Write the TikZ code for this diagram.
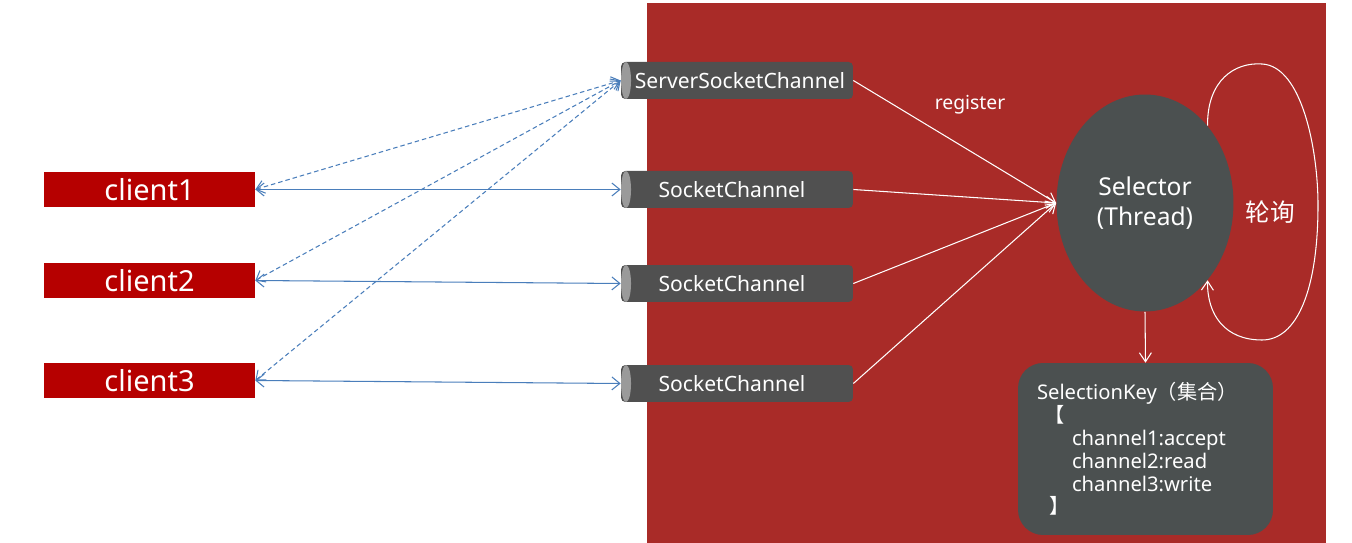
\documentclass[tikz,border=0pt]{standalone}
\usepackage{fontspec}
\setmainfont{Noto Sans}
\newfontfamily\cjk{Noto Sans CJK SC}
\usetikzlibrary{shapes,arrows.meta,positioning}
\definecolor{NioRed}{HTML}{A92B28}
\definecolor{ClientRed}{HTML}{B60000}
\definecolor{ChanGrey}{HTML}{505050}
\definecolor{ChanEnd}{HTML}{9A9A9A}
\definecolor{SelGrey}{HTML}{4B5050}
\definecolor{LinkBlue}{HTML}{4A7EBB}
\definecolor{NioWhite}{HTML}{FFFFFF}
\tikzset{
    % Client box style
    clientnode/.style={
        fill=ClientRed,
        text=NioWhite,
        minimum width=4.22cm,
        minimum height=0.7cm,
        inner sep=0pt,
        font=\fontsize{16.5}{19}\selectfont
    },
    % Channel pipe style
    channelnode/.style={
        rectangle,
        rounded corners=2.5pt,
        fill=ChanGrey,
        minimum width=4.64cm,
        minimum height=0.74cm,
        inner sep=0pt,
        text=NioWhite,
        font=\fontsize{12}{14}\selectfont,
        path picture={
            \fill[ChanEnd] ([xshift=0.1cm]path picture bounding box.west)
                ellipse (0.1cm and 0.37cm);
        }
    },
    % Selector ellipse style
    selectornode/.style={
        ellipse,
        fill=SelGrey,
        text=NioWhite,
        minimum width=3.54cm,
        minimum height=4.34cm,
        align=center,
        font=\fontsize{14}{17}\selectfont
    },
    % Key set box style
    keynode/.style={
        rectangle,
        rounded corners=0.5cm,
        fill=SelGrey,
        text=NioWhite,
        minimum width=5.1cm,
        minimum height=3.44cm,
        text width=4.34cm,
        align=left,
        font=\fontsize{11.5}{13}\selectfont
    },
    % White label
    whitelabel/.style={
        text=NioWhite,
        inner sep=1pt
    },
    % Blue two-way arrow
    bluearrow/.style={
        <->,
        >={Straight Barb[length=0.16cm,width=0.26cm]},
        line width=0.6pt,
        draw=LinkBlue
    },
    % Blue dashed two-way arrow
    bluedash/.style={
        bluearrow,
        dash pattern=on 0.9mm off 0.6mm
    },
    % White arrow
    whitearrow/.style={
        ->,
        >={Straight Barb[length=0.18cm,width=0.24cm]},
        line width=0.6pt,
        draw=NioWhite
    }
}
\begin{document}
\begin{tikzpicture}[x=0.02cm, y=-0.02cm]
    \useasboundingbox (0,0) rectangle (1352,543);
    \fill[NioRed] (647,3) rectangle (1326,543);

    \node[clientnode] (c1) at (149.5,189.5) {client1};
    \node[clientnode] (c2) at (149.5,280.5) {client2};
    \node[clientnode] (c3) at (149.5,380.5) {client3};

    \node[channelnode] (ssc) at (737,80.5) {\hspace*{0.12cm}ServerSocketChannel};
    \node[channelnode] (sc1) at (737,189.5) {SocketChannel\hspace*{0.2cm}};
    \node[channelnode] (sc2) at (737,283.5) {SocketChannel\hspace*{0.2cm}};
    \node[channelnode] (sc3) at (737,383.5) {SocketChannel\hspace*{0.2cm}};

    \node[selectornode] (sel) at (1145,203) {Selector\\(Thread)};
    \node[keynode] (key) at (1145.5,449) {SelectionKey{\cjk（集合）}\\
        \hspace*{0.15cm}{\cjk【}\\
        \hspace*{0.7cm}channel1:accept\\
        \hspace*{0.7cm}channel2:read\\
        \hspace*{0.7cm}channel3:write\\
        \hspace*{0.25cm}{\cjk】}};

    \node[whitelabel, font=\fontsize{11}{13}\selectfont] (reg) at (970,105) {register};
    \node[whitelabel, font=\cjk\fontsize{14}{17}\selectfont] (poll) at (1270,212) {轮询};

    \draw[bluearrow] (c1.east) -- (sc1.west);
    \draw[bluearrow] (c2.east) -- (sc2.west);
    \draw[bluearrow] (c3.east) -- (sc3.west);
    \draw[bluedash] (c1.east) -- (ssc.west);
    \draw[bluedash] (c2.east) -- (ssc.west);
    \draw[bluedash] (c3.east) -- (ssc.west);

    \draw[whitearrow] (ssc.east) -- (sel.west);
    \draw[whitearrow] (sc1.east) -- (sel.west);
    \draw[whitearrow] (sc2.east) -- (sel.west);
    \draw[whitearrow] (sc3.east) -- (sel.west);
    \draw[whitearrow] (sel.south) -- (key.north);

    \draw[whitearrow] (sel.51) .. controls (1207,80) and (1235,62) .. (1262,64)
        .. controls (1302,66) and (1318,150) .. (1318,205)
        .. controls (1318,290) and (1297,340) .. (1262,340)
        .. controls (1225,340) and (1207,315) .. (sel.-51);
\end{tikzpicture}
\end{document}
